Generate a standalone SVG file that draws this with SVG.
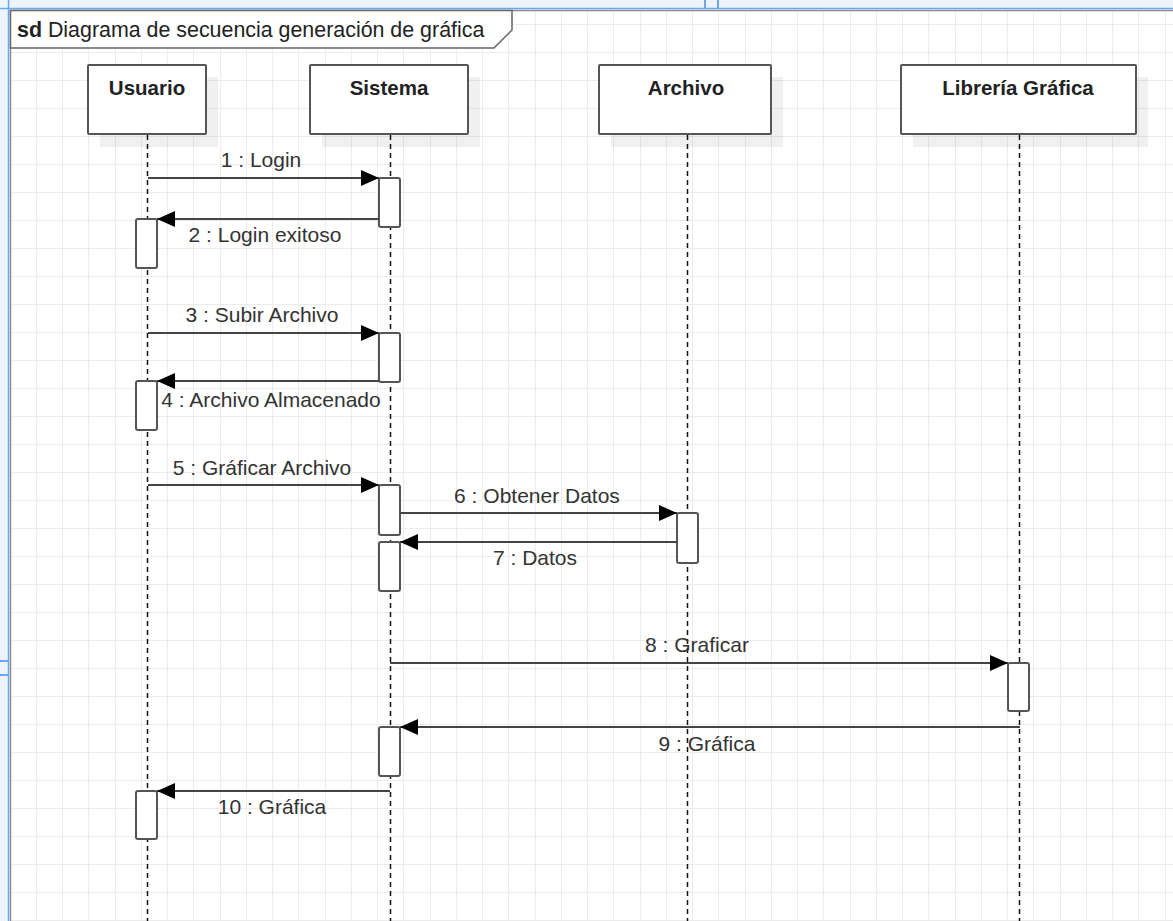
<svg xmlns="http://www.w3.org/2000/svg" width="1173" height="921" viewBox="0 0 1173 921">
<style>
.grid{stroke:#ececec;stroke-width:1;fill:none}
.box{fill:#fff;stroke:#555;stroke-width:2}
.shadow{fill:#000;fill-opacity:0.06}
.name{font-family:"Liberation Sans",Arial,sans-serif;font-size:20.5px;font-weight:bold;fill:#222;text-anchor:middle}
.lbl{font-family:"Liberation Sans",Arial,sans-serif;font-size:21px;fill:#333;text-anchor:middle}
.life{stroke:#111;stroke-width:1.5;stroke-dasharray:5 4;fill:none}
.act{fill:#fff;stroke:#555;stroke-width:2}
.msg{stroke:#444;stroke-width:2;fill:none;marker-end:url(#arr)}
</style>
<defs>
<marker id="arr" markerUnits="userSpaceOnUse" markerWidth="18" markerHeight="16" refX="18" refY="8" orient="auto">
<path d="M0,0 L18,8 L0,16 Z" fill="#000"/>
</marker>
</defs>
<rect x="0" y="0" width="1173" height="921" fill="#fff"/>
<g id="grid">
<path class="grid" d="M10.5 10V921M36.5 10V921M62.5 10V921M88.5 10V921M115.5 10V921M141.5 10V921M167.5 10V921M193.5 10V921M220.5 10V921M246.5 10V921M272.5 10V921M298.5 10V921M325.5 10V921M351.5 10V921M377.5 10V921M403.5 10V921M430.5 10V921M456.5 10V921M482.5 10V921M508.5 10V921M535.5 10V921M561.5 10V921M587.5 10V921M613.5 10V921M640.5 10V921M666.5 10V921M692.5 10V921M718.5 10V921M745.5 10V921M771.5 10V921M797.5 10V921M823.5 10V921M850.5 10V921M876.5 10V921M902.5 10V921M928.5 10V921M955.5 10V921M981.5 10V921M1007.5 10V921M1033.5 10V921M1060.5 10V921M1086.5 10V921M1112.5 10V921M1138.5 10V921M1165.5 10V921M10 24.5H1173M10 52.5H1173M10 80.5H1173M10 108.5H1173M10 136.5H1173M10 164.5H1173M10 192.5H1173M10 220.5H1173M10 248.5H1173M10 276.5H1173M10 304.5H1173M10 332.5H1173M10 360.5H1173M10 388.5H1173M10 416.5H1173M10 444.5H1173M10 472.5H1173M10 500.5H1173M10 528.5H1173M10 556.5H1173M10 584.5H1173M10 612.5H1173M10 640.5H1173M10 668.5H1173M10 696.5H1173M10 724.5H1173M10 752.5H1173M10 780.5H1173M10 808.5H1173M10 836.5H1173M10 864.5H1173M10 892.5H1173M10 920.5H1173"/>
</g>
<g id="rulers">
<rect x="0" y="0" width="1173" height="8" fill="#eef4fc"/>
<rect x="0" y="0" width="8" height="921" fill="#eef4fc"/>
<path d="M0 8.5H1173M8.5 0V921" stroke="#6aa6f2" stroke-width="1.5" fill="none"/>
<path d="M10 10.5H1173M10.5 10V921" stroke="#8a8a8a" stroke-width="1.5" fill="none"/>
<path d="M705 0V8M718 0V8M0 661H8M0 675H8" stroke="#6aa6f2" stroke-width="2" fill="none"/>
</g>
<g id="frame">
<path d="M10.5 10.5H512V30L494 48H10.5Z" fill="#fff" stroke="#666" stroke-width="1.5"/>
<text x="17" y="37" font-family="'Liberation Sans',Arial,sans-serif" font-size="21.4" fill="#222"><tspan font-weight="bold">sd</tspan> Diagrama de secuencia generación de gráfica</text>
</g>
<g id="usuario">
<rect class="shadow" x="100" y="77" width="118" height="70"/>
<rect class="box" x="88" y="65" width="118" height="69" rx="1"/>
<text class="name" x="147" y="95">Usuario</text>
<path class="life" d="M147.5 135V921"/>
<rect class="act" x="136" y="219" width="21" height="49" rx="2"/>
<rect class="act" x="136" y="381" width="21" height="49" rx="2"/>
<rect class="act" x="136" y="791" width="21" height="48" rx="2"/>
</g>
<g id="sistema">
<rect class="shadow" x="322" y="77" width="158" height="70"/>
<rect class="box" x="310" y="65" width="158" height="69" rx="1"/>
<text class="name" x="389" y="95">Sistema</text>
<path class="life" d="M390.5 135V921"/>
<rect class="act" x="379" y="178" width="21" height="49" rx="2"/>
<rect class="act" x="379" y="333" width="21" height="49" rx="2"/>
<rect class="act" x="379" y="485" width="21" height="50" rx="2"/>
<rect class="act" x="379" y="542" width="21" height="49" rx="2"/>
<rect class="act" x="379" y="727" width="21" height="49" rx="2"/>
</g>
<g id="archivo">
<rect class="shadow" x="611" y="77" width="172" height="70"/>
<rect class="box" x="599" y="65" width="172" height="69" rx="1"/>
<text class="name" x="686" y="95">Archivo</text>
<path class="life" d="M687.5 135V921"/>
<rect class="act" x="677" y="513" width="21" height="50" rx="2"/>
</g>
<g id="libreria">
<rect class="shadow" x="913" y="77" width="235" height="70"/>
<rect class="box" x="901" y="65" width="235" height="69" rx="1"/>
<text class="name" x="1018" y="95">Librería Gráfica</text>
<path class="life" d="M1019.5 135V921"/>
<rect class="act" x="1008" y="663" width="21" height="48" rx="2"/>
</g>
<g id="connectors">
<path class="msg" d="M148 178H379"/>
<text class="lbl" x="261" y="167">1 : Login</text>
<path class="msg" d="M379 219H157"/>
<text class="lbl" x="265" y="242">2 : Login exitoso</text>
<path class="msg" d="M148 333H379"/>
<text class="lbl" x="262" y="322">3 : Subir Archivo</text>
<path class="msg" d="M379 381H157"/>
<text class="lbl" x="271" y="407">4 : Archivo Almacenado</text>
<path class="msg" d="M148 485H379"/>
<text class="lbl" x="262" y="475">5 : Gráficar Archivo</text>
<path class="msg" d="M400 513H677"/>
<text class="lbl" x="537" y="503">6 : Obtener Datos</text>
<path class="msg" d="M677 542H400"/>
<text class="lbl" x="535" y="565">7 : Datos</text>
<path class="msg" d="M390 663H1008"/>
<text class="lbl" x="697" y="652">8 : Graficar</text>
<path class="msg" d="M1020 727H400"/>
<text class="lbl" x="707" y="751">9 : Gráfica</text>
<path class="msg" d="M390 791H157"/>
<text class="lbl" x="272" y="814">10 : Gráfica</text>
</g>
</svg>
